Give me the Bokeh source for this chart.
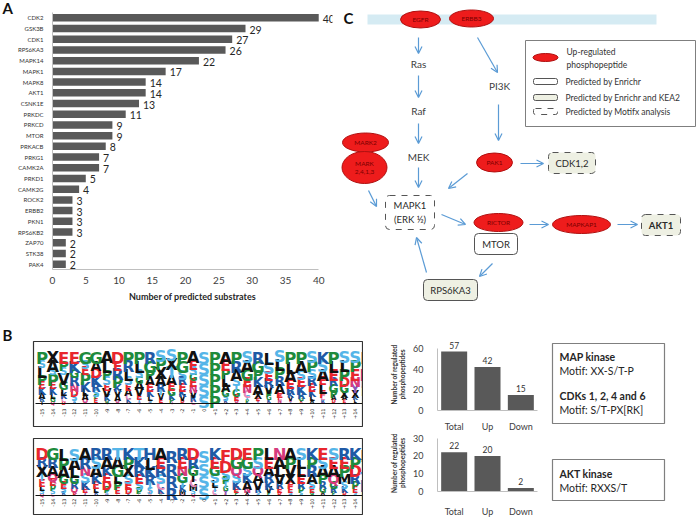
import math
from bokeh.plotting import figure
from bokeh.models import Range1d, FactorRange, ColumnDataSource, Arrow, OpenHead
from bokeh.layouts import row, column
from bokeh.embed import file_html
from bokeh.resources import INLINE
from bokeh.core.properties import value, field

FONT = "Lato"
LOGO_FONT = "DejaVu Sans"
BAR = "#595959"
AXIS = "#bfbfbf"
TXT = "#404040"

# ---------------- Panel A data ----------------
kinases = ["CDK2", "GSK3B", "CDK1", "RPS6KA3", "MAPK14", "MAPK1", "MAPK8", "AKT1",
           "CSNK1E", "PRKDC", "PRKCD", "MTOR", "PRKACB", "PRKG1", "CAMK2A", "PRKD1",
           "CAMK2G", "ROCK2", "ERBB2", "PKN1", "RPS6KB2", "ZAP70", "STK38", "PAK4"]
substrates = [40, 29, 27, 26, 22, 17, 14, 14, 13, 11, 9, 9, 8, 7, 7, 5, 4, 3, 3, 3, 3, 2, 2, 2]
a_ticks = [0, 5, 10, 15, 20, 25, 30, 35, 40]

# ---------------- Panel B data ----------------
motif_positions = list(range(-15, 16))
position_labels = ["0" if p == 0 else f"{p:+d}" for p in motif_positions]

top_logo_letters = [
    "PSLPEKARI", "XASPEKLGQ", "EPSVGLKCD", "EKGRNDSTH", "GSEPKLAQR", "GADKRSPET",
    "ALPSEVKGQ", "DERPKVAQS", "PRLSEACKD", "PLSGAVETQ", "RGPAEKLSD", "SPXARTVEN",
    "SXTAEGKPQ", "PGSREKVDT", "AESGENVRC", "S", "P", "AEPLAGSRD", "PRASTGEQK",
    "SAGENCTPR", "RGPKAXEQS", "LSERVPGKD", "SLPRAEFNT", "PLAERKVQS", "PASEKRGLD",
    "SPSREKLAT", "KSAELFCRN", "PLERGPADS", "SLPDGXAEQ", "SPENYXKLA", "ELNRPSG"]
top_logo_heights = [
    [12, 6, 9, 8, 6, 6, 5, 4, 3], [11, 9, 6, 9, 6, 6, 5, 4, 3], [12, 8, 6, 9, 7, 6, 5, 4, 3],
    [12, 10, 7, 8, 7, 6, 5, 3, 2], [12, 7, 7, 9, 8, 6, 5, 4, 2], [12, 8, 8, 9, 7, 6, 4, 4, 2],
    [11, 11, 8, 7, 6, 7, 5, 3, 2], [12, 8, 9, 9, 6, 6, 5, 3, 2], [12, 9, 9, 7, 6, 6, 5, 4, 2],
    [12, 10, 7, 6, 7, 7, 5, 4, 2], [12, 10, 8, 7, 7, 6, 5, 3, 2], [10, 9, 10, 8, 7, 5, 5, 4, 2],
    [9, 10, 9, 8, 7, 6, 5, 4, 2], [12, 10, 8, 7, 7, 6, 5, 3, 2], [11, 8, 7, 6, 7, 6, 6, 5, 4],
    [60], [60],
    [12, 9, 8, 9, 7, 6, 5, 3, 2], [12, 10, 9, 7, 6, 6, 5, 3, 2], [11, 10, 9, 8, 7, 6, 4, 3, 2],
    [12, 10, 8, 8, 8, 6, 4, 2, 2], [13, 10, 8, 8, 7, 5, 4, 3, 2], [10, 10, 9, 8, 8, 6, 4, 3, 2],
    [12, 11, 9, 8, 7, 5, 4, 2, 2], [12, 10, 8, 8, 8, 6, 4, 2, 2], [11, 10, 8, 8, 7, 6, 5, 3, 2],
    [12, 9, 9, 7, 8, 6, 4, 3, 2], [12, 10, 9, 7, 7, 6, 4, 3, 2], [11, 10, 9, 8, 7, 6, 4, 3, 2],
    [11, 10, 9, 8, 7, 6, 4, 3, 2], [12, 10, 9, 8, 8, 7, 6]]

bottom_logo_letters = [
    "DRXTELSQ", "GRAQEPSC", "LPAGESRT", "SALGRQEK", "ARNSKEYC", "RSAKELRC",
    "RAKEDPTW", "TAGLPESC", "KPXSEDTR", "TKRESPGC", "HLKRTSEQ", "AERSCKNG",
    "R", "RENGTKMQ", "DRGICMSQ", "S", "KEGSLTCR", "FDSPTGYE", "DGQSKEPC",
    "EGSKANXQ", "PSQAVRSC", "LEARKVPS", "NALVREDC", "APVXFESW", "SLLERPSG",
    "KPRASEGT", "ESAPRGAC", "SEAQGRPS", "REPMSKDQ", "KPDRPESC", "ELTRP"]
bottom_logo_heights = [
    [10, 8, 10, 6, 6, 5, 4, 3], [10, 8, 8, 7, 6, 5, 4, 3], [11, 9, 9, 7, 6, 5, 3, 2],
    [11, 9, 9, 7, 6, 5, 3, 2], [10, 9, 8, 8, 7, 5, 3, 2], [10, 9, 9, 8, 6, 5, 3, 2],
    [10, 9, 8, 8, 7, 5, 3, 2], [10, 9, 9, 8, 7, 5, 2, 2], [10, 9, 9, 8, 7, 5, 2, 2],
    [10, 9, 9, 8, 7, 5, 2, 2], [10, 10, 9, 8, 6, 5, 2, 2], [10, 9, 9, 8, 7, 5, 2, 2],
    [53], [10, 9, 8, 8, 6, 5, 4, 2], [10, 9, 8, 7, 6, 5, 4, 3], [50],
    [10, 9, 8, 8, 6, 5, 4, 2], [12, 11, 8, 6, 5, 4, 4, 2], [10, 9, 8, 8, 7, 5, 3, 2],
    [10, 9, 8, 8, 7, 5, 3, 2], [10, 9, 8, 8, 7, 5, 3, 2], [10, 9, 8, 8, 7, 5, 3, 2],
    [10, 9, 9, 8, 6, 5, 3, 2], [10, 9, 9, 8, 6, 5, 3, 2], [10, 9, 9, 8, 6, 5, 3, 2],
    [10, 9, 9, 8, 6, 5, 3, 2], [10, 9, 9, 8, 6, 5, 3, 2], [10, 9, 9, 8, 6, 5, 3, 2],
    [10, 9, 9, 8, 6, 5, 3, 2], [10, 9, 9, 8, 6, 5, 3, 2], [10, 10, 10, 8, 7]]

LETTER_COLORS = {
    "P": "#1e8b3c", "G": "#1e8b3c",
    "S": "#55b5e8", "T": "#55b5e8",
    "A": "#111111", "L": "#111111", "V": "#111111", "I": "#111111", "X": "#111111", "M": "#111111",
    "E": "#e8262d", "D": "#e8262d", "F": "#e8262d",
    "K": "#1f5aa6", "R": "#1f5aa6", "H": "#1f5aa6",
    "N": "#d63a7c", "Q": "#d63a7c", "C": "#e68ab8",
    "Y": "#8a55b8", "W": "#8a55b8",
}

mb_categories = ["Total", "Up", "Down"]
map_cdk_counts = [57, 42, 15]
akt_counts = [22, 20, 2]

motif_box_lines = [
    ("MAP kinase", "bold"), ("Motif: XX-S/T-P", "normal"),
    ("CDKs 1, 2, 4 and 6", "bold"), ("Motif: S/T-PX[RK]", "normal"),
    ("AKT kinase", "bold"), ("Motif: RXXS/T", "normal")]

# ---------------- Panel C (diagram) ----------------
red_nodes = ["EGFR", "ERBB3", "MARK2", "MARK\n2,4,1,3", "PAK1", "RICTOR", "MAPKAP1"]
red_x = [420, 471, 365, 364, 494, 498, 581]
red_y = [19, 18, 142, 167, 162, 222, 224]
red_w = [40, 44, 46, 45, 36, 49, 58]
red_h = [17, 17, 19, 32, 19, 18, 18]

plain_nodes = ["Ras", "Raf", "MEK", "PI3K"]
plain_x = [418, 418, 418, 499]
plain_y = [63, 110, 156, 85]

box_nodes = ["MAPK1\n(ERK ½)", "MTOR", "CDK1,2", "AKT1", "RPS6KA3"]
box_l = [385, 474, 548, 641, 423]
box_r = [434, 517, 595, 680, 477]
box_t = [195, 233, 152, 214, 279]
box_b = [229, 254, 173, 235, 300]
box_fill = ["#ffffff", "#ffffff", "#eef0e3", "#eef0e3", "#eef0e3"]
box_dash = ["dashed", "solid", "dashed", "dashed", "solid"]
box_bold = ["normal", "normal", "normal", "bold", "normal"]

arrow_x0 = [418, 418, 418, 418, 477, 498, 520, 467, 368, 441, 529, 617, 492, 426]
arrow_y0 = [37, 75, 123, 167, 37, 104, 163, 173, 190, 214, 224, 224, 263, 272]
arrow_x1 = [418, 418, 418, 418, 497, 498, 543, 448, 376, 465, 548, 637, 479, 416]
arrow_y1 = [53, 97, 143, 187, 72, 140, 163, 188, 206, 224, 224, 224, 276, 237]

legend_labels = ["Up-regulated\nphosphopeptide", "Predicted by Enrichr",
                 "Predicted by Enrichr and KEA2", "Predicted by Motifx analysis"]


def make_fig(**kw):
    return figure(output_backend="svg", toolbar_location=None, frame_align=False, **kw)


def blank(p):
    p.axis.visible = False
    p.grid.visible = False
    p.outline_line_color = None
    return p


# ================= Panel A =================
pAl = blank(make_fig(width=14, height=314, x_range=Range1d(0, 14), y_range=Range1d(314, 0),
                     min_border=0))
pAl.text(x=[2], y=[16.5], text=["A"], text_font=value(FONT), text_font_style="bold",
         text_font_size="15px", text_color="#111111")

pA = make_fig(width=322, height=314, x_range=Range1d(0, 42.07),
              y_range=FactorRange(factors=list(reversed(kinases)), range_padding=0),
              min_border_left=34, min_border_right=4, min_border_top=12, min_border_bottom=45)
pA.outline_line_color = None
pA.grid.grid_line_color = None
pA.hbar(y=kinases, left=0, right=substrates, height=0.7, fill_color=BAR, line_color=None)
pA.text(x=substrates, y=kinases, text=[str(v) for v in substrates], x_offset=4, y_offset=1,
        text_baseline="middle", text_align="left", text_font=value(FONT),
        text_font_size="10.5px", text_color="#262626")
pA.xaxis.ticker = a_ticks
pA.xaxis.bounds = (0, 40)
pA.xaxis.axis_label = "Number of predicted substrates"
pA.xaxis.axis_label_text_font = FONT
pA.xaxis.axis_label_text_font_style = "bold"
pA.xaxis.axis_label_text_font_size = "9px"
pA.xaxis.axis_label_text_color = "#262626"
pA.xaxis.axis_label_standoff = 4
pA.xaxis.major_label_text_font = FONT
pA.xaxis.major_label_text_font_size = "10px"
pA.xaxis.major_label_text_color = TXT
pA.xaxis.major_label_standoff = 1
pA.yaxis.major_label_text_font = FONT
pA.yaxis.major_label_text_font_size = "6px"
pA.yaxis.major_label_text_color = "#333333"
pA.yaxis.major_label_standoff = 3
for ax in (pA.xaxis, pA.yaxis):
    ax.axis_line_color = AXIS
    ax.major_tick_line_color = None
    ax.minor_tick_line_color = None

# ================= Panel C =================
pC = blank(make_fig(width=360, height=314, x_range=Range1d(336, 696), y_range=Range1d(314, 0),
                    min_border=0))
pC.text(x=[343], y=[17], text=["C"], text_font=value(FONT), text_font_style="bold",
        text_font_size="15px", text_baseline="alphabetic", text_color="#111111")
pC.quad(left=[367], right=[656], top=[14], bottom=[24], fill_color="#d5ebf3", line_color=None)

arrow_src = ColumnDataSource(dict(x0=arrow_x0, y0=arrow_y0, x1=arrow_x1, y1=arrow_y1))
pC.add_layout(Arrow(x_start="x0", y_start="y0", x_end="x1", y_end="y1", source=arrow_src,
                    line_color="#5b9bd5", line_width=1.2,
                    end=OpenHead(size=7, line_color="#5b9bd5", line_width=1.2)))

pC.ellipse(x=red_x, y=red_y, width=red_w, height=red_h, fill_color="#ee1c1c",
           line_color="#b01010", line_width=1)
pC.text(x=red_x, y=red_y, text=red_nodes, text_align="center", text_baseline="middle",
        text_font=value(FONT), text_font_size="6.5px", text_color="#7a0000", text_line_height=1.1)
pC.text(x=plain_x, y=plain_y, text=plain_nodes, text_align="center", text_baseline="middle",
        text_font=value(FONT), text_font_size="10px", text_color=TXT)

box_src = ColumnDataSource(dict(l=box_l, r=box_r, t=box_t, b=box_b, fill=box_fill,
                                dash=box_dash))
pC.quad(left="l", right="r", top="t", bottom="b", fill_color="fill", line_color="#555555",
        line_dash="dash", line_width=1, border_radius=4, source=box_src)
for i, name in enumerate(box_nodes):
    pC.text(x=[(box_l[i] + box_r[i]) / 2], y=[(box_t[i] + box_b[i]) / 2], text=[name],
            text_align="center", text_baseline="middle", text_font=value(FONT),
            text_font_style=box_bold[i], text_font_size="9.5px", text_color="#2a2a2a",
            text_line_height=1.3)

# legend
pC.quad(left=[525], right=[695], top=[40], bottom=[126], fill_color="white",
        line_color="#7f7f7f", line_width=1)
pC.ellipse(x=[545], y=[57], width=[25], height=[8], fill_color="#ee1c1c", line_color="#b01010")
pC.quad(left=[533, 533, 533], right=[557, 557, 557], top=[78, 94, 108], bottom=[84, 100, 114],
        fill_color=["#ffffff", "#eef0e3", "#ffffff"], line_color="#555555",
        line_dash=["solid", "solid", "dashed"], border_radius=2)
pC.text(x=[566, 565, 565, 565], y=[58, 81, 97, 111], text=legend_labels,
        text_baseline="middle", text_align="left", text_font=value(FONT),
        text_font_size="8.5px", text_color="#333333", text_line_height=1.35)

# ================= Panel B : logos =================
LOGO_X0, LOGO_DX = 203.5, 10.8   # reference pixel of position 0 and column pitch


def pos_of(px):
    return (px - LOGO_X0) / LOGO_DX


pL = blank(make_fig(width=363, height=205, x_range=Range1d(pos_of(0), pos_of(363)),
                    y_range=Range1d(519, 314), min_border=0))
pL.text(x=[pos_of(2)], y=[343], text=["B"], text_font=value(FONT), text_font_style="bold",
        text_font_size="15px", text_color="#111111")

WIDEN = 1.4


def add_logo(p, letters, heights, baseline, avail, box_top, box_bottom, label_top):
    xs, ys, txt, fs, cols = [], [], [], [], []
    for pos, lets, hs in zip(motif_positions, letters, heights):
        scale = avail / (sum(hs) + (WIDEN - 1) * min(hs[0], 11))
        y = baseline
        for ch, h in reversed(list(zip(lets, hs))):
            h = h * scale
            n = max(1, math.ceil(h / 13))
            hh = h / n
            for _ in range(n):
                xs.append(pos)
                ys.append(y)
                txt.append(ch)
                fs.append(f"{min(hh * WIDEN / 0.73, 16.5):.1f}px")
                cols.append(LETTER_COLORS[ch])
                y -= hh
    src = ColumnDataSource(dict(x=xs, y=ys, t=txt, fs=fs, c=cols))
    p.text(x="x", y="y", text="t", text_font_size=field("fs"), text_color=field("c"),
           text_font=value(LOGO_FONT), text_font_style="bold", text_align="center",
           text_baseline="alphabetic", source=src)
    p.segment(x0=[pos_of(35)], x1=[pos_of(362)], y0=[baseline + 1], y1=[baseline + 1],
              line_color="#111111", line_width=1)
    p.text(x=motif_positions, y=[label_top] * len(motif_positions), text=position_labels,
           angle=math.pi / 2, text_align="right", text_baseline="middle",
           text_font=value("DejaVu Sans"), text_font_size="5px", text_color="#222222")
    p.quad(left=[pos_of(33)], right=[pos_of(362)], top=[box_top], bottom=[box_bottom],
           fill_color=None, line_color="#333333", line_width=1.2)


add_logo(pL, top_logo_letters, top_logo_heights, 402, 59, 341, 426, 408)
add_logo(pL, bottom_logo_letters, bottom_logo_heights, 494, 53, 438, 514, 498)


# ================= Panel B : mini bar charts =================
def mini_chart(counts, ymax, ticks, height, top, bottom, standoff):
    p = make_fig(width=182, height=height,
                 x_range=FactorRange(factors=mb_categories, range_padding=0),
                 y_range=Range1d(0, ymax), min_border_left=74, min_border_right=8,
                 min_border_top=top, min_border_bottom=bottom)
    p.outline_line_color = None
    p.grid.grid_line_color = None
    p.vbar(x=mb_categories, top=counts, width=0.78, fill_color=BAR, line_color=None)
    p.text(x=mb_categories, y=counts, text=[str(c) for c in counts], y_offset=-3,
           text_align="center", text_baseline="bottom", text_font=value(FONT),
           text_font_size="8.5px", text_color="#333333")
    p.yaxis.ticker = ticks
    p.yaxis.bounds = (0, ticks[-1])
    p.yaxis.axis_label = "Number of regulated\nphosphopeptides"
    p.yaxis.axis_label_text_font = FONT
    p.yaxis.axis_label_text_font_style = "bold"
    p.yaxis.axis_label_text_font_size = "6.5px"
    p.yaxis.axis_label_text_color = "#333333"
    p.yaxis.axis_label_standoff = 4
    p.yaxis.major_label_standoff = 8
    p.xaxis.major_label_standoff = standoff
    for ax in (p.xaxis, p.yaxis):
        ax.axis_line_color = AXIS
        ax.major_tick_line_color = None
        ax.minor_tick_line_color = None
        ax.major_label_text_font = FONT
        ax.major_label_text_font_size = "9px"
        ax.major_label_text_color = TXT
    return p


pM1 = mini_chart(map_cdk_counts, 69.6, [0, 20, 40, 60], 120, 24, 16, 4)
pM2 = mini_chart(akt_counts, 32, [0, 10, 20, 30], 85, 0, 21, 8)

# ================= Panel B : motif boxes =================
pT = blank(make_fig(width=151, height=205, x_range=Range1d(545, 696), y_range=Range1d(519, 314),
                    min_border=0))
pT.quad(left=[552, 552], right=[664, 664], top=[343, 459], bottom=[423, 500],
        fill_color=None, line_color="#7f7f7f", line_width=1.2)
text_y = [356, 370, 395, 409, 473, 487]
for (t, style), y in zip(motif_box_lines, text_y):
    pT.text(x=[559], y=[y], text=[t], text_font=value(FONT), text_font_style=style,
            text_font_size="10.5px", text_color="#262626", text_baseline="middle")

layout = column(row(pAl, pA, pC), row(pL, column(pM1, pM2), pT))
open("out.html", "w").write(file_html(layout, INLINE))
